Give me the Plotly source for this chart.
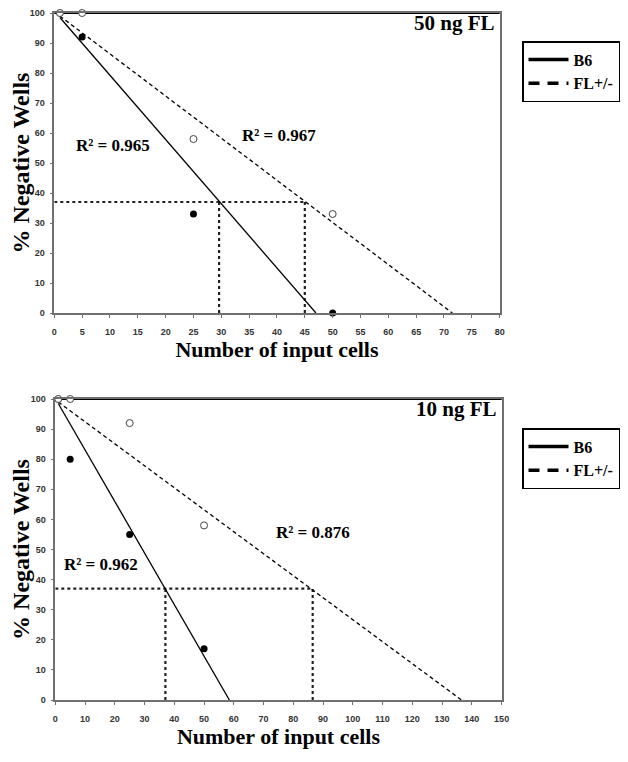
import plotly.graph_objects as go

# ---- data ----
# 50 ng FL panel
top_b6_x = [1, 5, 25, 50]
top_b6_y = [100, 92, 33, 0]
top_fl_x = [1, 5, 25, 50]
top_fl_y = [100, 100, 58, 33]
top_b6_fit_x = [1, 47]
top_b6_fit_y = [98.5, 0]
top_fl_fit_x = [1, 71.5]
top_fl_fit_y = [99, 0]
top_cross = [29.6, 45]      # x where each fit hits 37 %
top_r2 = ["R² = 0.965", "R² = 0.967"]
top_r2_pos = [(10.6, 56), (40.4, 59.3)]

# 10 ng FL panel
bot_b6_x = [1, 5, 25, 50]
bot_b6_y = [100, 80, 55, 17]
bot_fl_x = [1, 5, 25, 50]
bot_fl_y = [100, 100, 92, 58]
bot_b6_fit_x = [1, 58.5]
bot_b6_fit_y = [98.5, 0]
bot_fl_fit_x = [1, 136.5]
bot_fl_fit_y = [99, 0]
bot_cross = [37, 86.5]
bot_r2 = ["R² = 0.962", "R² = 0.876"]
bot_r2_pos = [(15.2, 45), (86.6, 55.5)]

cutoff = 37
panel_titles = ["50 ng FL", "10 ng FL"]

SERIF = "Liberation Serif"
SANS = "Liberation Sans"
# page body has an 8px margin, so the figure sits at (8, 8) in the window
OFF = 8
W, H = 628 - 2 * OFF, 762 - 2 * OFF


def px(x):
    return (x - OFF) / W


def py(y):
    return 1 - (y - OFF) / H


fig = go.Figure()


def add_panel(fig, xa, ya, legend, b6x, b6y, flx, fly, b6fx, b6fy, flfx, flfy, cross, r2, r2pos, title):
    xr, yr = xa.replace("axis", ""), ya.replace("axis", "")
    # top border in black
    fig.add_shape(type="line", x0=0, x1=1, y0=1, y1=1, xref=xr + " domain", yref=yr + " domain",
                  line=dict(color="black", width=2), layer="below")
    # 37 % guide lines
    fig.add_trace(go.Scatter(x=[0, max(cross)], y=[cutoff, cutoff], mode="lines",
                             line=dict(color="#222", width=2.2, dash="dot"),
                             xaxis=xr, yaxis=yr, showlegend=False, hoverinfo="skip"))
    for c in cross:
        fig.add_trace(go.Scatter(x=[c, c], y=[0, cutoff], mode="lines",
                                 line=dict(color="#222", width=2.2, dash="dot"),
                                 xaxis=xr, yaxis=yr, showlegend=False, hoverinfo="skip"))
    # fits
    fig.add_trace(go.Scatter(x=b6fx, y=b6fy, mode="lines", line=dict(color="black", width=1.3),
                             xaxis=xr, yaxis=yr, showlegend=False))
    fig.add_trace(go.Scatter(x=flfx, y=flfy, mode="lines",
                             line=dict(color="black", width=1.3, dash="4px,3px"),
                             xaxis=xr, yaxis=yr, showlegend=False))
    # points
    fig.add_trace(go.Scatter(x=b6x, y=b6y, mode="markers", cliponaxis=False,
                             marker=dict(color="black", size=7),
                             xaxis=xr, yaxis=yr, showlegend=False))
    fig.add_trace(go.Scatter(x=flx, y=fly, mode="markers", cliponaxis=False,
                             marker=dict(color="white", size=7, line=dict(color="#444", width=1)),
                             xaxis=xr, yaxis=yr, showlegend=False))
    # legend entries
    fig.add_trace(go.Scatter(x=[None], y=[None], mode="lines", name="B6",
                             line=dict(color="black", width=3.5), xaxis=xr, yaxis=yr, legend=legend))
    fig.add_trace(go.Scatter(x=[None], y=[None], mode="lines", name="FL+/-",
                             line=dict(color="black", width=3.5, dash="11px,8px"),
                             xaxis=xr, yaxis=yr, legend=legend))
    for txt, (tx, ty) in zip(r2, r2pos):
        fig.add_annotation(x=tx, y=ty, xref=xr, yref=yr, text=txt, showarrow=False,
                           font=dict(family=SERIF, size=17, color="black", weight="bold"))
    fig.add_annotation(x=0.995, y=1.012, xref=xr + " domain", yref=yr + " domain", text=title,
                       showarrow=False, xanchor="right", yanchor="top",
                       font=dict(family=SERIF, size=21, color="black", weight="bold"))


add_panel(fig, "xaxis", "yaxis", "legend", top_b6_x, top_b6_y, top_fl_x, top_fl_y,
          top_b6_fit_x, top_b6_fit_y, top_fl_fit_x, top_fl_fit_y, top_cross,
          top_r2, top_r2_pos, panel_titles[0])
add_panel(fig, "xaxis2", "yaxis2", "legend2", bot_b6_x, bot_b6_y, bot_fl_x, bot_fl_y,
          bot_b6_fit_x, bot_b6_fit_y, bot_fl_fit_x, bot_fl_fit_y, bot_cross,
          bot_r2, bot_r2_pos, panel_titles[1])

tickfont = dict(family=SANS, size=9, color="#333", weight="bold")
xtitlefont = dict(family=SERIF, size=22, color="black", weight="bold")
ytitlefont = dict(family=SERIF, size=24, color="black", weight="bold")
axis_common = dict(showgrid=False, zeroline=False, showline=True, linecolor="#707070",
                   linewidth=1.5, mirror=True, ticks="outside", ticklen=3, tickcolor="#707070",
                   tickfont=tickfont, automargin=False)

legend_common = dict(font=dict(family=SERIF, size=16, color="black", weight="bold"),
                     bordercolor="black", borderwidth=1.5, bgcolor="white",
                     xref="paper", yref="paper", xanchor="left", yanchor="top",
                     itemwidth=40, tracegroupgap=2)

fig.update_layout(
    width=W, height=H,
    margin=dict(l=0, r=0, t=0, b=0),
    paper_bgcolor="white", plot_bgcolor="white",
    xaxis=dict(domain=[px(55), px(507)], range=[0, 80], dtick=5, anchor="y", ticklabelstandoff=6,
               title=dict(text="Number of input cells", font=xtitlefont, standoff=6), **axis_common),
    yaxis=dict(domain=[py(313), py(13)], range=[0, 100], dtick=10, anchor="x", ticklabelstandoff=3,
               title=dict(text="% Negative Wells", font=ytitlefont, standoff=5), **axis_common),
    xaxis2=dict(domain=[px(56), px(509)], range=[0, 150], dtick=10, anchor="y2", ticklabelstandoff=6,
                title=dict(text="Number of input cells", font=xtitlefont, standoff=6), **axis_common),
    yaxis2=dict(domain=[py(700), py(399)], range=[0, 100], dtick=10, anchor="x2", ticklabelstandoff=3,
                title=dict(text="% Negative Wells", font=ytitlefont, standoff=5), **axis_common),
    legend=dict(x=px(530), y=py(41), **legend_common),
    legend2=dict(x=px(530), y=py(428), **legend_common),
)

fig.write_html("out.html")
